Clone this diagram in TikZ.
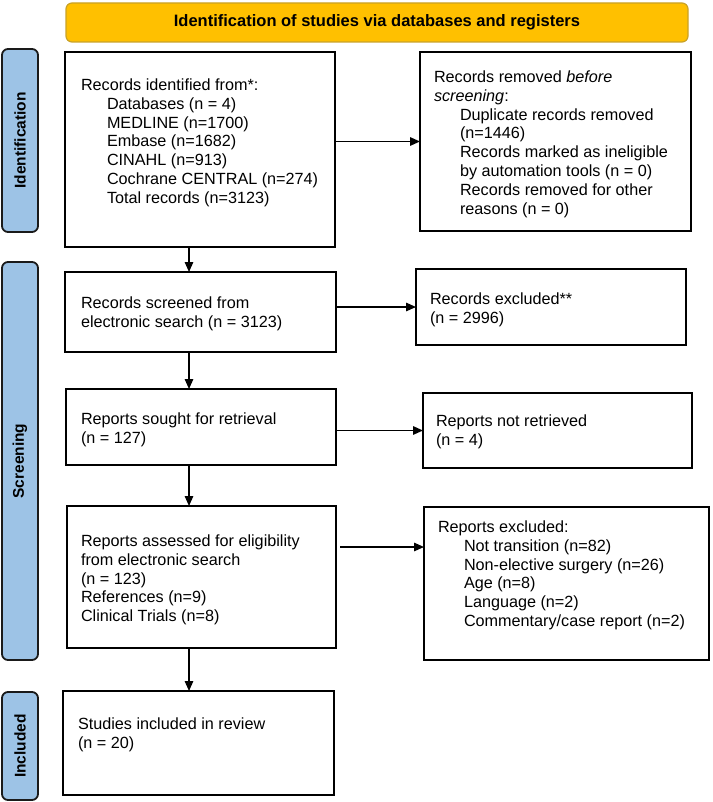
\documentclass[tikz,border=0pt]{standalone}
\usepackage{fontspec}
\setmainfont{Liberation Sans}
\usetikzlibrary{arrows.meta}
\definecolor{titlefill}{HTML}{FFC000}
\definecolor{titledraw}{HTML}{C9A227}
\definecolor{sidefill}{HTML}{9DC3E6}
\definecolor{sidedraw}{HTML}{1A1A1A}
\begin{document}
\begin{tikzpicture}[x=1pt,y=-1pt,
  every node/.style={inner sep=0pt,outer sep=0pt},
  flowbox/.style={draw=black,line width=1.5pt,rectangle,anchor=north west},
  sidebox/.style={draw=sidedraw,fill=sidefill,line width=1.8pt,rounded corners=6pt,rectangle,anchor=north west,minimum width=36pt},
  sidetext/.style={font=\fontsize{15.5}{18}\selectfont\bfseries,rotate=90},
  boxtext/.style={anchor=north west,align=left,font=\fontsize{16.2}{18.8}\selectfont},
  flowarrow/.style={line width=1.5pt,-{Triangle[length=10pt,width=8.5pt]}}]
\useasboundingbox (0,0) rectangle (712,802);
\newcommand{\fl}{\rule{0pt}{12pt}}
\newcommand{\ind}{\hspace*{26pt}}
% title
\node[draw=titledraw,fill=titlefill,line width=1.2pt,rounded corners=6pt,anchor=north west,minimum width=622pt,minimum height=39pt,font=\fontsize{16.5}{18}\selectfont\bfseries] (title) at (66,3) {Identification of studies via databases and registers};
% side labels
\node[sidebox,minimum height=183pt] (idl) at (2,49) {};
\node[sidetext] (idt) at (idl.center) {Identification};
\node[sidebox,minimum height=398pt] (scl) at (2,262) {};
\node[sidetext] (sct) at (scl.center) {Screening};
\node[sidebox,minimum height=108pt] (inl) at (2,692) {};
\node[sidetext] (int) at (inl.center) {Included};
% boxes
\node[flowbox,minimum width=270pt,minimum height=195pt] (b1) at (65,52) {};
\node[flowbox,minimum width=271pt,minimum height=179pt] (rem) at (420,52) {};
\node[flowbox,minimum width=271pt,minimum height=80pt] (scr) at (65,272) {};
\node[flowbox,minimum width=270pt,minimum height=76pt] (exc) at (416,269) {};
\node[flowbox,minimum width=270pt,minimum height=76pt] (sgt) at (66,389) {};
\node[flowbox,minimum width=269pt,minimum height=75pt] (ret) at (423,393) {};
\node[flowbox,minimum width=269pt,minimum height=142pt] (ass) at (67,506) {};
\node[flowbox,minimum width=285pt,minimum height=153pt] (rex) at (424,507) {};
\node[flowbox,minimum width=271pt,minimum height=104pt] (inc) at (63,691) {};
% texts
\node[boxtext] (t1) at (81,78.5) {\fl Records identified from*:\\
\ind Databases (n = 4)\\
\ind MEDLINE (n=1700)\\
\ind Embase (n=1682)\\
\ind CINAHL (n=913)\\
\ind Cochrane CENTRAL (n=274)\\
\ind Total records (n=3123)};
\node[boxtext] (t2) at (434,70.5) {\fl Records removed \textit{before}\\
\textit{screening}:\\
\ind Duplicate records removed\\
\ind (n=1446)\\
\ind Records marked as ineligible\\
\ind by automation tools (n = 0)\\
\ind Records removed for other\\
\ind reasons (n = 0)};
\node[boxtext] (t3) at (81,296.5) {\fl Records screened from\\electronic search (n = 3123)};
\node[boxtext] (t4) at (430,292.5) {\fl Records excluded**\\(n = 2996)};
\node[boxtext] (t5) at (81,412.5) {\fl Reports sought for retrieval\\(n = 127)};
\node[boxtext] (t6) at (436,414.5) {\fl Reports not retrieved\\(n = 4)};
\node[boxtext] (t7) at (81,534.5) {\fl Reports assessed for eligibility\\from electronic search\\(n = 123)\\References (n=9)\\Clinical Trials (n=8)};
\node[boxtext] (t8) at (438,520.5) {\fl Reports excluded:\\
\ind Not transition (n=82)\\
\ind Non-elective surgery (n=26)\\
\ind Age (n=8)\\
\ind Language (n=2)\\
\ind Commentary/case report (n=2)};
\node[boxtext] (t9) at (78,717.5) {\fl Studies included in review\\(n = 20)};
% connectors
\coordinate (ax) at (189,0);
\coordinate (a4) at (340,547);
\draw[flowarrow] (b1.east |- rem.west) -- (rem.west);
\draw[flowarrow] (scr.east |- exc.west) -- (exc.west);
\draw[flowarrow] (ret.west -| sgt.east) -- (ret.west);
\draw[flowarrow] (a4) -- (a4 -| rex.west);
\draw[flowarrow] (b1.south -| ax) -- (scr.north -| ax);
\draw[flowarrow] (scr.south -| ax) -- (sgt.north -| ax);
\draw[flowarrow] (sgt.south -| ax) -- (ass.north -| ax);
\draw[flowarrow] (ass.south -| ax) -- (inc.north -| ax);
\end{tikzpicture}
\end{document}
